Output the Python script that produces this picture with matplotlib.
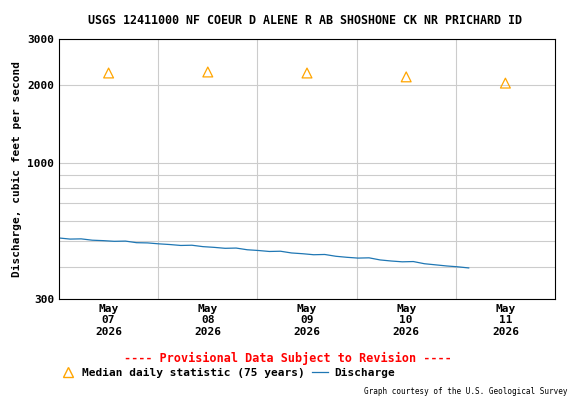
import numpy as np
import matplotlib
matplotlib.use("Agg")
import matplotlib.pyplot as plt
from matplotlib.lines import Line2D

title = "USGS 12411000 NF COEUR D ALENE R AB SHOSHONE CK NR PRICHARD ID"
median_days = [7, 8, 9, 10, 11]
median_vals = [2220, 2240, 2220, 2145, 2030]
q_start, q_end = 6.5, 10.63
discharge = [515, 510, 511, 505, 503, 500, 501, 494, 493, 489, 486, 482, 483, 477, 474,
             470, 471, 464, 461, 457, 458, 451, 448, 444, 445, 438, 434, 431, 432, 424,
             420, 417, 418, 410, 406, 402, 399, 395]
tick_labels = ["May\n07\n2026", "May\n08\n2026", "May\n09\n2026", "May\n10\n2026", "May\n11\n2026"]

font = {"family": "DejaVu Sans Mono", "weight": "bold", "size": 8}
fig = plt.figure(figsize=(5.76, 4.0), dpi=100)
ax = fig.add_axes([59/576, 1-299/400, 496/576, 260/400])
t = np.linspace(q_start, q_end, len(discharge))
ax.plot(t, discharge, color="#1f77b4", lw=0.9)
ax.scatter(median_days, median_vals, marker="^", s=50, facecolors="none", edgecolors="orange", linewidths=0.9, zorder=3)
ax.set_yscale("log")
ax.set_ylim(300, 3000)
ax.set_xlim(6.5, 11.5)
ax.set_yticks([300, 1000, 2000, 3000])
ax.set_yticklabels(["300", "1000", "2000", "3000"], **font)
ax.set_yticks([400, 500, 600, 700, 800, 900], minor=True)
ax.yaxis.set_minor_formatter(matplotlib.ticker.NullFormatter())
ax.set_xticks(median_days)
ax.set_xticklabels(tick_labels, **font)
ax.set_xticks([7.5, 8.5, 9.5, 10.5], minor=True)
ax.grid(True, which="both", axis="y", color="#cccccc", lw=0.8)
ax.grid(True, which="minor", axis="x", color="#cccccc", lw=0.8)
ax.tick_params(which="both", length=0)
ax.set_axisbelow(True)
ax.set_ylabel("Discharge, cubic feet per second", **font)
fig.text(305/576, 1-20/400, title, ha="center", va="center", family="DejaVu Sans Mono", weight="bold", size=8.4)
fig.text(0.5, 1-358/400, "---- Provisional Data Subject to Revision ----", ha="center", va="center",
         color="red", family="DejaVu Sans Mono", weight="bold", size=8.5)
h = [Line2D([], [], marker="^", ls="none", mfc="none", mec="orange", ms=7),
     Line2D([], [], color="#1f77b4", lw=0.9)]
fig.legend(h, ["Median daily statistic (75 years)", "Discharge"], loc="center left",
           bbox_to_anchor=(50/576, 1-373/400), ncol=2, frameon=False, prop=font,
           handlelength=1.5, columnspacing=0.6, handletextpad=0.5)
fig.text(568/576, 1-391/400, "Graph courtesy of the U.S. Geological Survey", ha="right", va="center",
         family="DejaVu Sans Mono", size=5.5)
fig.savefig("out.png", dpi=100)
